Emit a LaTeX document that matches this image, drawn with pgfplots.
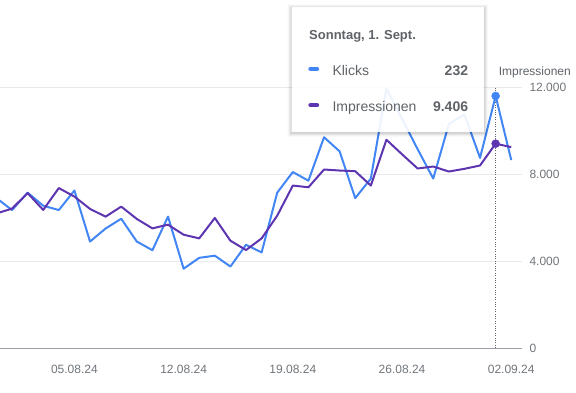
\documentclass[border=0pt]{standalone}
\usepackage{fontspec}
\setmainfont{Liberation Sans}
\usepackage{pgfplots}
\usepackage{pgfplotstable}
\pgfplotsset{compat=1.18}
\definecolor{kblue}{HTML}{4285F4}
\definecolor{ipurple}{HTML}{5E35B1}
\definecolor{tgray}{HTML}{5F6368}
\definecolor{lgray}{HTML}{70757A}
\definecolor{gridc}{HTML}{E8EAED}
\definecolor{axisg}{HTML}{9AA0A6}

\pgfplotstableread{
d klicks impr
-5 138 6194
-4 127 6415
-3 143 7131
-2 131 6355
-1 127 7362
0 145 6969
1 98 6402
2 110 6046
3 119 6508
4 98 5940
5 90 5506
6 121 5677
7 73 5215
8 83 5045
9 85 5986
10 75 4938
11 95 4509
12 88 5045
13 143 6092
14 162 7477
15 154 7398
16 194 8215
17 181 8169
18 138 8137
19 156 7477
20 239 9586
21 211 8917
22 183 8262
23 156 8354
24 206 8123
25 215 8248
26 175 8400
27 232 9406
28 173 9245
}\chartdata

\pgfplotsset{
  common/.style={
    at={(0bp,45bp)}, anchor=south west, scale only axis,
    width=522bp, height=260.7bp,
    xmin=-4.77, xmax=28.69,
    scaled y ticks=false, scaled x ticks=false,
  },
}

\begin{document}
\begin{tikzpicture}
\useasboundingbox (0,0) rectangle (576bp,393bp);
% grid, ticks, dotted marker line
\begin{axis}[
  common, ymin=0, ymax=12000,
  axis x line*=bottom, axis y line*=right,
  x axis line style={draw=axisg, line width=0.8bp, -},
  y axis line style={draw=none},
  xtick={0,7,14,21,28},
  xticklabels={05.08.24,12.08.24,19.08.24,26.08.24,02.09.24},
  ytick={0,4000,8000,12000},
  yticklabels={0,4.000,8.000,12.000},
  major tick length=0pt,
  ymajorgrids, grid style={draw=gridc, line width=0.8bp},
  xticklabel style={font=\fontsize{12bp}{14bp}\selectfont, text=lgray, anchor=base, inner sep=0pt, yshift=-25.3bp},
  yticklabel style={font=\fontsize{12bp}{14bp}\selectfont, text=lgray, anchor=west, inner sep=0pt, xshift=7.3bp},
]
\draw[tgray, line width=0.8bp, dash pattern=on 0.8bp off 1.6bp] (axis cs:27,0) -- (axis cs:27,12000);
\end{axis}
% Klicks
\begin{axis}[common, hide axis, ymin=0, ymax=240]
\addplot[kblue, line width=2bp, line join=round, no marks] table[x=d, y=klicks] {\chartdata};
\addplot[kblue, only marks, mark=*, mark size=4bp] coordinates {(27,232)};
\end{axis}
% Impressionen
\begin{axis}[common, hide axis, ymin=0, ymax=12000]
\addplot[ipurple, line width=2bp, line join=round, no marks] table[x=d, y=impr] {\chartdata};
\addplot[ipurple, only marks, mark=*, mark size=4bp] coordinates {(27,9406)};
\end{axis}
% tooltip
\begin{scope}[x=1bp, y=1bp]
\foreach \e/\o in {4/0.025, 3/0.035, 2/0.05, 1/0.07} {
  \fill[black, opacity=\o, even odd rule] (291.7-\e,261-\e-1) rectangle (484+\e,385.7+\e-1) (291.7,261) rectangle (484,385.7);
}
\fill[white, fill opacity=0.9] (291.7,261) rectangle (484,385.7);
\node[anchor=base west, inner sep=0pt, text=tgray, font=\fontsize{13bp}{15bp}\selectfont\bfseries] at (309,354) {Sonntag, 1. Sept.};
\draw[kblue, line width=4.3, line cap=round] (310.5,324.2) -- (317,324.2);
\draw[ipurple, line width=4.3, line cap=round] (310.5,287.7) -- (317,287.7);
\node[anchor=base west, inner sep=0pt, text=tgray, font=\fontsize{14bp}{16bp}\selectfont] at (332.3,318) {Klicks};
\node[anchor=base west, inner sep=0pt, text=tgray, font=\fontsize{14bp}{16bp}\selectfont] at (332.3,282) {Impressionen};
\node[anchor=base east, inner sep=0pt, text=tgray, font=\fontsize{14bp}{16bp}\selectfont\bfseries] at (468.3,318) {232};
\node[anchor=base east, inner sep=0pt, text=tgray, font=\fontsize{14bp}{16bp}\selectfont\bfseries] at (468.3,282) {9.406};
\node[anchor=base east, inner sep=0pt, text=tgray, font=\fontsize{12bp}{14bp}\selectfont] at (571,318) {Impressionen};
\end{scope}
\end{tikzpicture}
\end{document}
